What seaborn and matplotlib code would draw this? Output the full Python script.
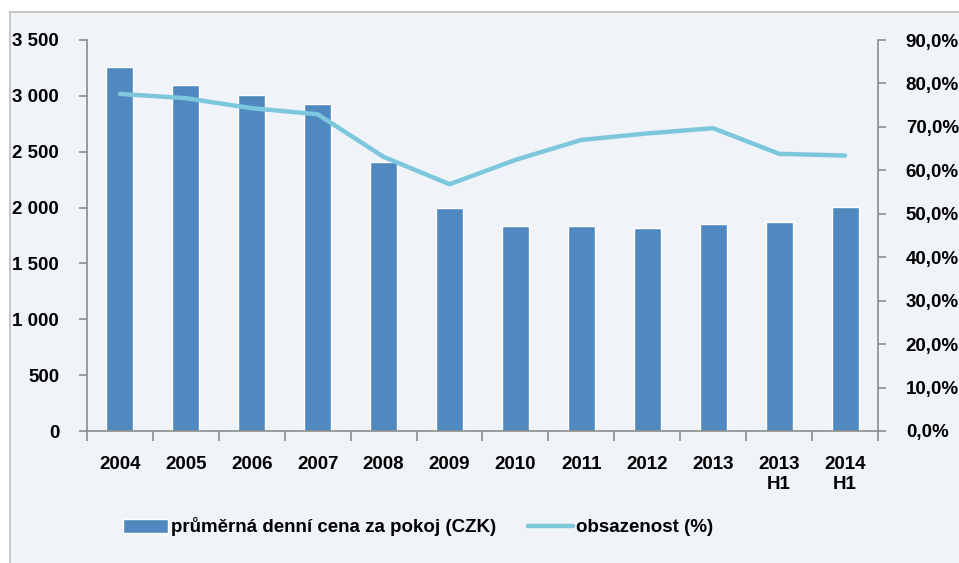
import matplotlib
matplotlib.use("Agg")
import matplotlib.pyplot as plt
from matplotlib.patches import Rectangle
from matplotlib.ticker import FuncFormatter, FixedLocator
import seaborn as sns
import pandas as pd

# data
years = ["2004", "2005", "2006", "2007", "2008", "2009", "2010", "2011",
         "2012", "2013", "2013\nH1", "2014\nH1"]
price_czk = [3256, 3098, 3011, 2927, 2411, 1994, 1838, 1838, 1820, 1850, 1868, 2008]
occupancy = [77.6, 76.6, 74.3, 72.9, 63.1, 56.8, 62.4, 67.0, 68.5, 69.7, 63.8, 63.4]

bar_label = "průměrná denní cena za pokoj (CZK)"
line_label = "obsazenost (%)"

bar_color = "#4F89BF"
line_color = "#7DC7DD"
panel_color = "#F0F4F8"
axis_grey = "#8C8C8C"

sns.set_style("white")
plt.rcParams["font.family"] = ["Liberation Sans Narrow", "Liberation Sans", "DejaVu Sans"]
plt.rcParams["font.weight"] = "bold"
plt.rcParams["text.color"] = "black"
plt.rcParams["xtick.color"] = "black"
plt.rcParams["ytick.color"] = "black"

df = pd.DataFrame({"year": years, "price": price_czk, "occ": occupancy})

W, H = 959, 563
fig = plt.figure(figsize=(W / 100, H / 100), dpi=100)
fig.patch.set_facecolor("white")
# light panel behind the chart, like the pasted Excel chart area
panel = Rectangle((10 / W, -0.01), 1.01 - 10 / W, 1.01 - 12 / H, transform=fig.transFigure,
                  facecolor=panel_color, edgecolor="#BEBEBE", linewidth=1.2, zorder=-10)
fig.patches.append(panel)

ax = fig.add_axes([87 / W, (H - 431) / H, 791 / W, 391 / H])
ax.set_facecolor("none")

sns.barplot(data=df, x="year", y="price", color=bar_color, width=0.41,
            saturation=1, ax=ax, label=bar_label, legend=False)
ax.set_xlim(-0.5, len(years) - 0.5)
ax.set_ylim(0, 3500)
ax.set_yticks(range(0, 3501, 500))
ax.yaxis.set_major_formatter(FuncFormatter(lambda v, p: f"{int(v):,}".replace(",", " ")))

ax2 = ax.twinx()
sns.lineplot(data=df, x="year", y="occ", color=line_color, linewidth=3.2,
             ax=ax2, label=line_label, legend=False)
ax2.set_ylim(0, 90)
ax2.set_yticks(range(0, 91, 10))
ax2.yaxis.set_major_formatter(FuncFormatter(lambda v, p: f"{v:.1f}".replace(".", ",") + "%"))

for a in (ax, ax2):
    a.set_xlabel("")
    a.set_ylabel("")
    if a.get_legend() is not None:
        a.get_legend().remove()
    for s in a.spines.values():
        s.set_color(axis_grey)
        s.set_linewidth(1.2)
    a.spines["top"].set_visible(False)

ax.spines["right"].set_visible(False)
ax2.spines["left"].set_visible(False)
ax2.spines["bottom"].set_visible(False)

ax.tick_params(axis="y", direction="out", length=6, width=1.2, color=axis_grey,
               labelcolor="black", pad=14, labelsize=13.5, left=True)
ax2.tick_params(axis="y", direction="out", length=6, width=1.2, color=axis_grey,
                labelcolor="black", pad=14, labelsize=13.5, right=True)
ax.tick_params(axis="x", which="major", length=0, pad=18, labelsize=13.5, labelcolor="black")
ax.xaxis.set_minor_locator(FixedLocator([i - 0.5 for i in range(len(years) + 1)]))
ax.tick_params(axis="x", which="minor", direction="out", length=7, width=1.2,
               color=axis_grey, bottom=True)
for lbl in ax.get_xticklabels() + ax.get_yticklabels() + ax2.get_yticklabels():
    lbl.set_fontweight("bold")

h1, l1 = ax.get_legend_handles_labels()
h2, l2 = ax2.get_legend_handles_labels()
leg = fig.legend(h1 + h2, l1 + l2, loc="center", bbox_to_anchor=(0.436, 1 - 527 / H),
                 ncol=2, frameon=False, fontsize=13.5, handlelength=2.4,
                 handletextpad=0.15, columnspacing=1.7)
for t in leg.get_texts():
    t.set_fontweight("bold")
    t.set_color("black")

fig.savefig("out.png", dpi=100, facecolor=fig.get_facecolor())
